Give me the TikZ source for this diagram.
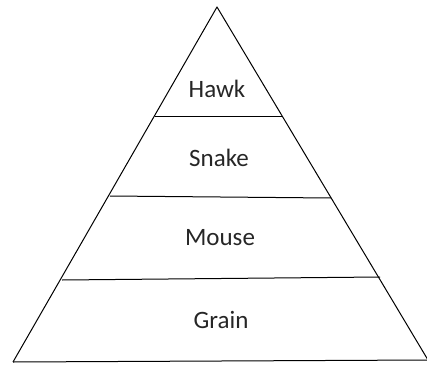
\documentclass[tikz,border=0pt]{standalone}
\usepackage{fontspec}
\setmainfont{Carlito}
\begin{document}
\begin{tikzpicture}[x=1pt,y=-1pt,
  edge/.style={line width=1pt,line join=round},
  label/.style={font=\fontsize{25}{27}\selectfont,text=black!85,inner sep=0pt}]
\useasboundingbox (0,0) rectangle (427,366);
\coordinate (apex) at (217,7);
\coordinate (bl) at (13,362);
\coordinate (br) at (428,360);
\coordinate (l1) at (155,117);
\coordinate (r1) at (283,117);
\coordinate (l2) at (110,196);
\coordinate (r2) at (331,198);
\coordinate (l3) at (62,280);
\coordinate (r3) at (380,277);
\draw[edge] (bl) -- (apex) -- (br);
\draw[edge] (bl) -- (br);
\draw[edge] (l1) -- (r1);
\draw[edge] (l2) -- (r2);
\draw[edge] (l3) -- (r3);
\node[label] (hawk) at (217,89) {Hawk};
\node[label] (snake) at (219,158) {Snake};
\node[label] (mouse) at (220,238) {Mouse};
\node[label] (grain) at (221,320) {Grain};
\end{tikzpicture}
\end{document}
